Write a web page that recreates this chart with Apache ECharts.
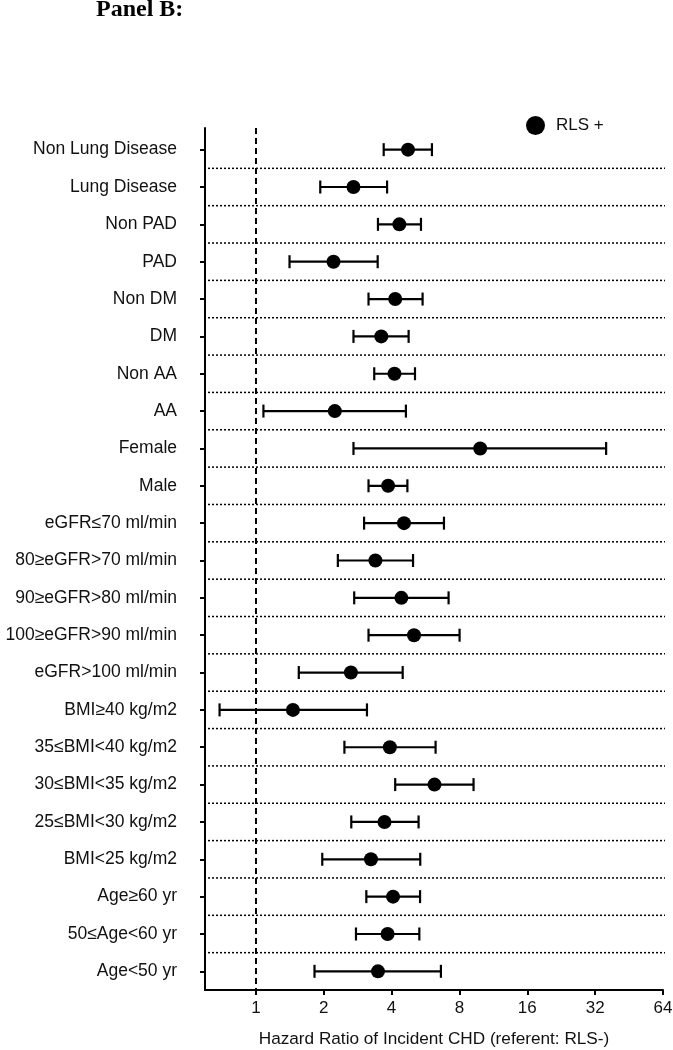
<!DOCTYPE html>
<html>
<head>
<meta charset="utf-8">
<script src="https://cdn.jsdelivr.net/npm/echarts@6/dist/echarts.min.js"></script>
<style>
html,body{margin:0;padding:0;background:#fff;}
#chart{width:673px;height:1050px;}
</style>
</head>
<body>
<div id="chart"></div>
<script>
const categories = [
  'Non Lung Disease','Lung Disease','Non PAD','PAD','Non DM','DM','Non AA','AA',
  'Female','Male','eGFR\u226470 ml/min','80\u2265eGFR>70 ml/min','90\u2265eGFR>80 ml/min',
  '100\u2265eGFR>90 ml/min','eGFR>100 ml/min','BMI\u226540 kg/m2','35\u2264BMI<40 kg/m2',
  '30\u2264BMI<35 kg/m2','25\u2264BMI<30 kg/m2','BMI<25 kg/m2','Age\u226560 yr',
  '50\u2264Age<60 yr','Age<50 yr'
];
const hr    = [4.73, 2.71, 4.33, 2.21, 4.15, 3.60, 4.12, 2.24, 9.89, 3.86, 4.54, 3.39, 4.42, 5.03, 2.64, 1.46, 3.93, 6.20, 3.72, 3.24, 4.06, 3.84, 3.48];
const lower = [3.69, 1.93, 3.48, 1.41, 3.16, 2.71, 3.35, 1.08, 2.71, 3.16, 3.02, 2.31, 2.73, 3.16, 1.55, 0.69, 2.47, 4.15, 2.65, 1.97, 3.09, 2.78, 1.82];
const upper = [6.04, 3.82, 5.40, 3.47, 5.49, 4.76, 5.08, 4.63, 35.8, 4.70, 6.83, 4.98, 7.16, 8.01, 4.48, 3.11, 6.27, 9.24, 5.27, 5.36, 5.35, 5.31, 6.62];
const xTickLabels = [1, 2, 4, 8, 16, 32, 64];
const seriesName = 'RLS +';
const xAxisTitle = 'Hazard Ratio of Incident CHD (referent: RLS-)';
const panelTitle = 'Panel B:';

const log2 = v => Math.log(v) / Math.LN2;
const xTickPos = xTickLabels.map(log2);
const rowIdx = categories.map((c, i) => i);
const pointData = hr.map((v, i) => [log2(v), i]);
const ciData = lower.map((v, i) => [log2(v), log2(upper[i]), i]);
const sepData = rowIdx.slice(0, rowIdx.length - 1);

const FONT = '"Liberation Sans", Arial, sans-serif';
const chart = echarts.init(document.getElementById('chart'), null, {renderer: 'canvas'});

chart.setOption({
  animation: false,
  backgroundColor: '#fff',
  title: {
    text: panelTitle, left: 91, top: -7,
    textStyle: {fontFamily: '"Liberation Serif", "Times New Roman", serif', fontWeight: 'bold', fontSize: 24, color: '#000'}
  },
  legend: {
    data: [{name: seriesName, icon: 'circle'}],
    left: 521, top: 111, itemWidth: 19, itemHeight: 19,
    textStyle: {fontFamily: FONT, fontSize: 17, color: '#111', padding: [0, 0, 0, 6]}
  },
  grid: {left: 205, right: 10, top: 128, bottom: 60, outerBoundsMode: 'none', containLabel: false},
  xAxis: {
    type: 'value', min: -0.75, max: 6,
    name: xAxisTitle, nameLocation: 'middle', nameGap: 41,
    nameTextStyle: {fontFamily: FONT, fontSize: 17.2, color: '#111'},
    axisLine: {show: true, onZero: false, lineStyle: {color: '#000', width: 2}},
    axisTick: {show: true, customValues: xTickPos, length: 5, lineStyle: {color: '#000', width: 2}},
    axisLabel: {customValues: xTickPos, margin: 10, fontFamily: FONT, fontSize: 17, color: '#111',
      formatter: v => String(Math.round(Math.pow(2, v)))},
    splitLine: {show: false}
  },
  yAxis: {
    type: 'value', inverse: true, min: -0.58, max: 22.5,
    axisLine: {show: true, onZero: false, lineStyle: {color: '#000', width: 2}},
    axisTick: {show: true, customValues: rowIdx, length: 5, lineStyle: {color: '#000', width: 2}},
    axisLabel: {customValues: rowIdx, margin: 28, fontFamily: FONT, fontSize: 17.5, color: '#111',
      formatter: v => categories[Math.round(v)]},
    splitLine: {show: false}
  },
  series: [
    {
      type: 'custom', name: 'sep', silent: true, z: 1,
      data: sepData,
      renderItem: (params, api) => {
        const i = api.value(0);
        const y = api.coord([0, i + 0.5])[1];
        const cs = params.coordSys;
        return {
          type: 'line',
          shape: {x1: cs.x + 3, y1: y, x2: cs.x + cs.width + 2, y2: y},
          style: {stroke: '#000', lineWidth: 1.5, lineDash: [2, 2]}
        };
      },
      encode: {x: [], y: 0},
      markLine: {
        silent: true, symbol: 'none', label: {show: false},
        lineStyle: {color: '#000', width: 2, type: [6, 4]},
        data: [{xAxis: log2(1)}]
      }
    },
    {
      type: 'custom', name: 'ci', silent: true, z: 2,
      data: ciData,
      encode: {x: [0, 1], y: 2},
      renderItem: (params, api) => {
        const a = api.coord([api.value(0), api.value(2)]);
        const b = api.coord([api.value(1), api.value(2)]);
        const h = 6.5;
        const st = {stroke: '#000', lineWidth: 2.2};
        return {
          type: 'group',
          children: [
            {type: 'line', shape: {x1: a[0], y1: a[1], x2: b[0], y2: b[1]}, style: st},
            {type: 'line', shape: {x1: a[0], y1: a[1] - h, x2: a[0], y2: a[1] + h}, style: st},
            {type: 'line', shape: {x1: b[0], y1: b[1] - h, x2: b[0], y2: b[1] + h}, style: st}
          ]
        };
      }
    },
    {
      type: 'scatter', name: seriesName, z: 3,
      data: pointData, symbol: 'circle', symbolSize: 14,
      itemStyle: {color: '#000', opacity: 1}
    }
  ]
});
</script>
</body>
</html>
